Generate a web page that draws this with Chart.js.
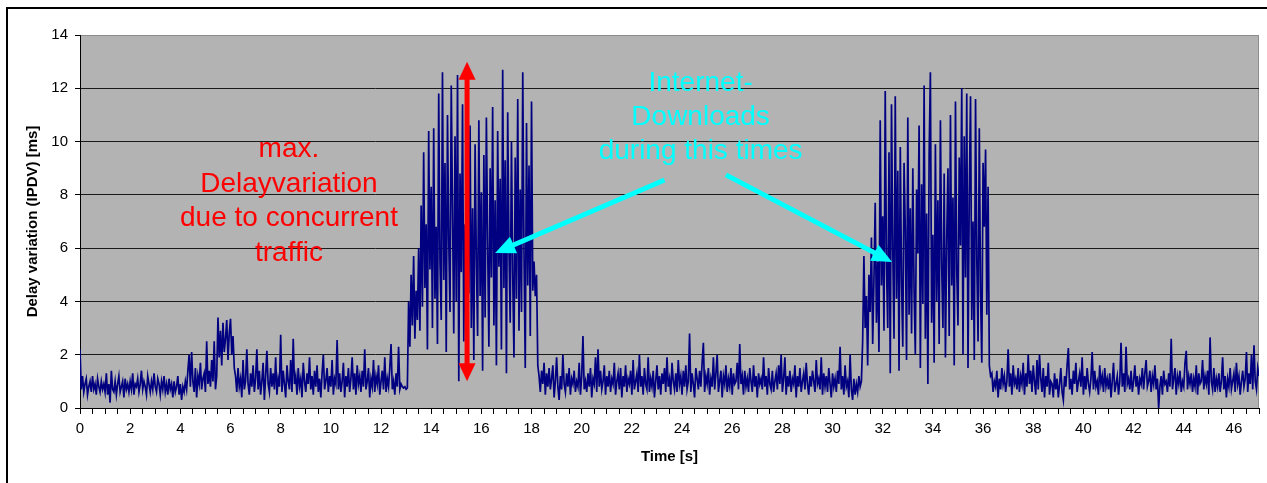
<!DOCTYPE html>
<html>
<head>
<meta charset="utf-8">
<title>Delay variation (IPDV)</title>
<script src="https://cdn.jsdelivr.net/npm/chart.js@4.4.1/dist/chart.umd.min.js"></script>
<style>
  html, body { margin: 0; padding: 0; background: #fff; }
  #wrap { width: 1267px; height: 483px; }
</style>
</head>
<body>
<div id="wrap"><canvas id="ipdv-chart" width="1267" height="483"></canvas></div>
<script>
// one sample every 50 ms, values in ms
const sampleStep = 0.05;

const quietStart = [
  2.2, 0.7, 1.2, 0.6, 0.9, 1.1, 0.5, 0.8, 1.0, 0.6,
  1.2, 0.7, 0.9, 0.5, 1.1, 0.8, 0.6, 1.0, 0.7, 0.9,
  0.6, 1.3, 0.5, 0.9, 0.2, 1.4, 0.7, 0.6, 1.0, 0.5,
  0.9, 1.2, 0.6, 0.8, 1.0, 0.4, 1.1, 0.7, 0.9, 0.6,
  1.0, 0.7, 1.3, 0.5, 0.9, 0.8, 1.1, 0.6, 0.9, 1.4,
  0.7, 1.0, 0.8, 0.5, 1.2, 0.9, 0.6, 1.0, 0.7, 1.3,
  0.8, 0.6, 1.1, 0.9, 0.5, 1.0, 0.7, 1.2, 0.6, 0.9,
  0.5, 1.1, 0.7, 0.9, 0.4, 1.0, 0.6, 0.8, 1.2, 0.5,
  0.9, 0.3, 0.8, 0.6, 1.0, 0.7,
];
const rampBump = [
  1.4, 2.0, 0.8, 2.1, 1.0, 0.6, 1.5, 0.4, 1.2, 0.9,
  1.7, 0.7, 1.1, 1.3, 0.6, 2.5, 0.9, 1.4, 0.8, 1.8,
  1.0, 2.5, 0.7, 1.2, 3.4, 1.9, 2.9, 1.6, 3.2, 2.1,
  2.6, 3.3, 1.8, 2.8, 3.35, 2.0, 2.7, 1.5,
];
const quietA = [
  1.2, 0.6, 1.5, 0.8, 1.1, 0.4, 1.8, 0.7, 1.0, 2.2,
  0.9, 0.5, 1.3, 0.8, 1.6, 0.6, 1.1, 2.2, 0.7, 1.4,
  0.5, 1.0, 1.7, 0.3, 1.2, 2.15, 0.9, 0.6, 1.5, 0.8,
  1.3, 0.7, 1.9, 0.5, 1.1, 0.8, 2.75, 0.6, 1.4, 0.9,
  0.4, 1.6, 1.0, 0.7, 1.8, 0.6, 2.6, 0.9, 1.2, 0.5,
  1.5, 0.8, 1.1, 0.4, 1.7, 1.0, 0.6, 1.3, 0.9, 1.9,
  0.7, 1.2, 0.5, 1.4, 0.8, 1.6, 0.6, 1.1, 0.4, 1.3,
  2.0, 0.7, 1.0, 1.5, 0.6, 1.2, 0.8, 1.8, 0.5, 1.1,
  0.9, 2.55, 0.7, 1.3, 0.6, 1.0, 1.7, 0.4, 1.2, 0.8,
  1.5, 0.6, 1.1, 1.9, 0.7, 1.3, 0.5, 1.6, 0.9, 1.2,
  0.6, 1.4, 0.8, 2.2, 0.7, 1.0, 1.5, 0.4, 1.1, 0.8,
  1.8, 0.6, 1.2, 0.9, 1.6, 0.5, 1.0, 1.4, 0.7, 1.9,
  0.6, 1.1, 0.8, 1.5, 2.4, 0.7, 1.0, 0.5, 1.3, 0.8,
  2.3, 0.7, 0.9, 0.8, 0.75, 0.8, 0.7, 0.75,
];
const burstA = [
  4.0, 2.3, 5.0, 3.1, 5.7, 2.6, 4.4, 3.3, 6.0, 2.9,
  7.6, 3.8, 9.6, 4.5, 6.9, 2.2, 10.4, 5.2, 8.3, 3.0,
  10.5, 4.1, 6.8, 2.4, 11.8, 5.5, 3.3, 12.6, 4.8, 9.2,
  2.1, 11.0, 6.3, 3.6, 12.1, 7.4, 2.8, 10.2, 4.0, 12.5,
  1.0, 8.8, 5.1, 11.4, 2.5, 6.9, 1.6, 9.7, 4.3, 10.6,
  3.0, 7.5, 1.8, 9.9, 5.6, 2.7, 10.8, 4.2, 8.1, 1.4,
  9.5, 3.4, 10.9, 6.2, 2.3, 9.0, 4.9, 11.3, 3.1, 7.8,
  1.6, 10.4, 5.3, 8.6, 2.2, 12.7, 4.5, 9.3, 1.3, 11.1,
  6.0, 3.2, 10.0, 5.0, 1.9, 9.4, 4.1, 11.6, 2.9, 8.2,
  3.6, 12.6, 5.8, 1.5, 10.7, 4.6, 9.1, 2.7, 11.5, 4.4,
  5.5, 4.2, 5.0,
];
const quietB = [
  1.6, 1.2, 0.6, 1.4, 0.9, 1.7, 0.5, 1.3, 0.8, 1.5,
  0.7, 1.1, 1.6, 0.4, 1.0, 1.9, 0.8, 0.3, 1.2, 0.7,
  2.0, 0.9, 0.6, 1.3, 0.8, 1.5, 0.5, 1.1, 0.9, 1.4,
  0.6, 1.0, 0.8, 1.7, 0.5, 1.2, 2.7, 0.7, 1.0, 0.6,
  1.3, 0.8, 1.5, 0.4, 1.1, 0.9, 1.9, 0.6, 2.2, 0.8,
  1.4, 0.7, 1.0, 1.6, 0.5, 1.2, 0.8, 1.4, 0.6, 1.1,
  0.9, 1.7, 0.5, 1.0, 1.3, 0.7, 1.5, 0.4, 1.2, 0.8,
  1.6, 0.6, 1.1, 0.9, 1.4, 0.5, 1.8, 0.7, 1.0, 1.3,
  0.6, 2.0, 0.8, 1.2, 0.5, 1.5, 0.9, 0.7, 1.9, 0.6,
  1.1, 0.8, 1.4, 0.4, 1.0, 1.6, 0.7, 1.2, 0.5, 1.3,
  0.9, 1.5, 0.6, 1.9, 0.8, 1.1, 0.5, 1.7, 1.0, 0.7,
  1.3, 0.6, 1.8, 0.9, 1.2, 0.5, 1.4, 0.8, 1.6, 0.7,
  1.0, 2.8, 0.6, 1.3, 0.9, 0.4, 1.5, 1.1, 0.7, 1.4,
  0.8, 1.7, 2.45, 0.6, 1.2, 0.9, 1.5, 0.5, 1.1, 0.8,
  1.9, 0.7, 1.3, 2.0, 0.6, 1.0, 1.4, 0.4, 1.2, 0.9,
  1.6, 0.6, 1.1, 0.8, 1.5, 0.5, 1.3, 0.9, 1.0, 1.7,
  0.7, 2.4, 0.9, 1.2, 0.5, 1.4, 0.8, 1.1, 0.6, 1.5,
  1.0, 0.6, 1.6, 0.8, 1.2, 0.4, 1.3, 0.9, 1.1, 0.7,
  1.9, 0.8, 1.2, 0.5, 1.5, 0.9, 0.7, 1.4, 0.6, 1.0,
  1.3, 0.7, 1.6, 0.9, 2.0, 0.6, 1.1, 1.9, 0.5, 1.2,
  0.8, 1.4, 0.6, 1.1, 0.9, 1.6, 0.4, 1.2, 0.8, 1.5,
  0.6, 1.0, 1.3, 0.7, 1.7, 0.9, 0.5, 1.2, 0.8, 1.4,
  1.0, 0.6, 1.8, 0.9, 1.1, 0.7, 1.9, 0.5, 1.3, 0.8,
  1.2, 0.6, 1.5, 0.9, 0.4, 1.3, 0.8, 1.1, 0.6, 1.4,
  0.9, 2.3, 0.7, 1.2, 0.5, 1.6, 0.8, 1.0, 0.4, 2.0,
  0.7, 0.3, 1.1, 0.5, 0.9, 0.6, 1.2, 0.8, 1.0,
];
const burstB = [
  2.5, 5.7, 3.0, 4.2, 1.6, 5.0, 3.6, 6.4, 2.4, 4.8,
  7.7, 3.2, 5.5, 2.1, 10.8, 4.6, 7.2, 2.9, 11.9, 5.3,
  3.0, 9.6, 1.3, 11.4, 6.0, 2.6, 11.7, 4.1, 8.9, 1.4,
  9.8, 4.7, 2.3, 9.2, 6.7, 1.8, 10.9, 3.5, 7.5, 2.8,
  9.0, 4.4, 2.0, 8.2, 5.8, 10.6, 1.5, 8.4, 3.9, 12.1,
  2.6, 7.3, 0.9, 9.5, 12.6, 3.2, 6.5, 1.7, 9.9, 4.0,
  7.8, 2.4, 10.8, 5.4, 3.0, 8.8, 1.9, 6.3, 9.0, 2.7,
  11.0, 4.6, 7.9, 1.6, 11.5, 5.2, 3.1, 9.4, 6.1, 12.0,
  2.0, 10.2, 4.9, 11.8, 1.5, 8.0, 11.7, 3.3, 7.0, 1.8,
  11.6, 5.6, 2.5, 10.5, 4.3, 1.7, 9.2, 6.8, 9.7, 3.5,
  8.3, 1.6, 1.2,
];
const quietC = [
  1.3, 0.6, 1.0, 0.8, 1.4, 0.4, 1.1, 0.7, 1.5, 0.9,
  1.2, 0.6, 1.0, 2.2, 0.8, 1.3, 0.5, 1.6, 0.9, 1.1,
  0.7, 1.5, 0.6, 1.2, 0.9, 1.7, 0.5, 1.3, 0.8, 2.0,
  0.9, 1.4, 0.6, 1.6, 1.0, 0.5, 1.8, 0.7, 2.0, 1.1,
  0.6, 1.5, 0.4, 1.2, 0.8, 1.7, 0.5, 1.0, 0.9, 0.4,
  1.3, 0.7, 1.1, 0.4, 0.9, 1.5, 0.6, 0.3, 1.2, 0.8,
  1.6, 2.25, 0.7, 1.1, 0.5, 1.4, 0.9, 1.7, 0.6, 1.0,
  1.3, 0.8, 1.9, 0.5, 1.2, 0.7, 1.5, 0.9, 0.6, 1.1,
  2.1, 0.7, 1.4, 0.8, 1.0, 0.5, 1.6, 0.9, 1.2, 0.6,
  1.5, 0.8, 1.1, 0.7, 1.3, 0.4, 1.0, 1.7, 0.6, 0.9,
  1.2, 0.5, 1.0, 2.45, 0.8, 1.3, 0.6, 2.3, 0.9, 1.1,
  0.7, 1.4, 0.6, 1.0, 1.6, 0.8, 1.2, 0.5, 1.1, 0.9,
  1.5, 0.7, 1.3, 1.8, 0.8, 1.0, 1.4, 0.6, 1.2, 0.9,
  1.6, 0.7, 1.1, 0.0, 0.8, 1.2, 0.5, 1.4, 0.9, 1.0,
  0.6, 1.3, 0.8, 2.6, 0.7, 1.1, 1.5, 0.5, 1.2, 0.9,
  1.4, 0.6, 1.0, 0.8, 1.7, 2.15, 0.7, 1.2, 0.9, 1.3,
  0.6, 1.1, 0.8, 1.6, 0.5, 1.3, 0.9, 1.0, 1.8, 0.7,
  1.2, 0.9, 1.4, 0.5, 2.65, 1.0, 0.7, 1.5, 0.6, 1.1,
  0.8, 1.3, 0.6, 1.0, 1.9, 0.7, 1.2, 0.4, 1.1, 0.8,
  1.5, 0.7, 1.0, 1.3, 0.6, 1.7, 0.9, 1.2, 0.5, 1.0,
  1.4, 0.8, 1.1, 2.1, 0.6, 1.3, 0.9, 2.0, 0.7, 2.35,
  1.0, 0.7, 1.5, 1.2,
];

const segments = [quietStart, rampBump, quietA, burstA, quietB, burstB, quietC];
const segmentStarts = [0, 4.3, 6.2, 13.1, 18.25, 31.2, 36.35]; // s

const yTicks = [0, 2, 4, 6, 8, 10, 12, 14];
const xLabelEvery = 2;

// annotation texts
const redNote = ["max.", "Delayvariation", "due to concurrent", "traffic"];
const cyanNote = ["Internet-", "Downloads", "during this times"];

const points = segments.flatMap((values, k) =>
  values.map((v, i) => ({ x: Number((segmentStarts[k] + i * sampleStep).toFixed(2)), y: v }))
);

function drawArrowHead(ctx, tipX, tipY, angle, len, width) {
  ctx.beginPath();
  ctx.moveTo(tipX, tipY);
  ctx.lineTo(tipX - len * Math.cos(angle) + (width / 2) * Math.sin(angle),
             tipY - len * Math.sin(angle) - (width / 2) * Math.cos(angle));
  ctx.lineTo(tipX - len * Math.cos(angle) - (width / 2) * Math.sin(angle),
             tipY - len * Math.sin(angle) + (width / 2) * Math.cos(angle));
  ctx.closePath();
  ctx.fill();
}

function drawArrow(ctx, x1, y1, x2, y2, color) {
  const angle = Math.atan2(y2 - y1, x2 - x1);
  const len = 20;
  ctx.strokeStyle = color;
  ctx.fillStyle = color;
  ctx.lineWidth = 5;
  ctx.beginPath();
  ctx.moveTo(x1, y1);
  ctx.lineTo(x2 - (len - 2) * Math.cos(angle), y2 - (len - 2) * Math.sin(angle));
  ctx.stroke();
  drawArrowHead(ctx, x2, y2, angle, len, 18);
}

const backdrop = {
  id: "backdrop",
  beforeDraw(chart) {
    const { ctx, chartArea: a } = chart;
    ctx.save();
    ctx.fillStyle = "#fff";
    ctx.fillRect(0, 0, chart.width, chart.height);
    ctx.strokeStyle = "#000";
    ctx.lineWidth = 2;
    ctx.strokeRect(7, 8, chart.width + 10, chart.height + 10);
    ctx.fillStyle = "#b3b3b3";
    ctx.fillRect(a.left, a.top, a.right - a.left, a.bottom - a.top);
    ctx.strokeStyle = "#8c8c8c";
    ctx.lineWidth = 1;
    ctx.strokeRect(a.left + 0.5, a.top + 0.5, a.right - a.left - 1, a.bottom - a.top);
    ctx.restore();
  },
};

const notes = {
  id: "notes",
  afterDatasetsDraw(chart) {
    const { ctx, scales: { x, y } } = chart;
    ctx.save();
    ctx.font = "28px 'Liberation Sans', Arial, sans-serif";
    ctx.textAlign = "center";
    ctx.textBaseline = "alphabetic";

    ctx.fillStyle = "#ff0000";
    redNote.forEach((line, i) => {
      ctx.fillText(line, x.getPixelForValue(8.33), y.getPixelForValue(9.41) + i * 34.5);
    });

    ctx.fillStyle = "#00ffff";
    cyanNote.forEach((line, i) => {
      ctx.fillText(line, x.getPixelForValue(24.74), y.getPixelForValue(11.91) + i * 34.3);
    });

    drawArrow(ctx, x.getPixelForValue(23.3), y.getPixelForValue(8.56),
      x.getPixelForValue(16.55), y.getPixelForValue(5.82), "#00ffff");
    drawArrow(ctx, x.getPixelForValue(25.75), y.getPixelForValue(8.75),
      x.getPixelForValue(32.37), y.getPixelForValue(5.48), "#00ffff");

    // red double arrow: spread of the delay variation
    const rx = x.getPixelForValue(15.43);
    const top = y.getPixelForValue(13.0);
    const bottom = y.getPixelForValue(1.0);
    ctx.strokeStyle = "#ff0000";
    ctx.fillStyle = "#ff0000";
    ctx.lineWidth = 5;
    ctx.beginPath();
    ctx.moveTo(rx, top + 16);
    ctx.lineTo(rx, bottom - 16);
    ctx.stroke();
    drawArrowHead(ctx, rx, top, -Math.PI / 2, 18, 17);
    drawArrowHead(ctx, rx, bottom, Math.PI / 2, 18, 17);
    ctx.restore();
  },
};

const tickFont = { family: "'Liberation Sans', Arial, sans-serif", size: 15 };
const titleFont = { family: "'Liberation Sans', Arial, sans-serif", size: 15, weight: "bold" };

new Chart(document.getElementById("ipdv-chart"), {
  type: "line",
  data: {
    datasets: [{
      label: "IPDV",
      data: points,
      borderColor: "#000080",
      borderWidth: 1.7,
      pointRadius: 0,
      tension: 0,
      fill: false,
    }],
  },
  options: {
    responsive: false,
    animation: false,
    devicePixelRatio: 1,
    layout: { padding: { left: 0, top: 35, right: 8, bottom: 0 } },
    plugins: { legend: { display: false }, tooltip: { enabled: false } },
    scales: {
      x: {
        type: "linear",
        min: 0,
        max: 47,
        afterFit: (scale) => { scale.height = 75; },
        ticks: {
          stepSize: 0.5,
          autoSkip: false,
          maxRotation: 0,
          padding: 6,
          color: "#000",
          font: tickFont,
          callback: (v) => (Number.isInteger(v) && v % xLabelEvery === 0 ? String(v) : ""),
        },
        grid: { drawOnChartArea: false, drawTicks: true, tickLength: 6, color: "#000" },
        border: { display: true, color: "#000", width: 1 },
        title: { display: true, text: "Time [s]", color: "#000", font: titleFont, padding: { top: 0, bottom: 17 } },
      },
      y: {
        min: 0,
        max: 14,
        afterFit: (scale) => { scale.width = 80; },
        afterBuildTicks: (scale) => { scale.ticks = yTicks.map((v) => ({ value: v })); },
        ticks: { padding: 7, color: "#000", font: tickFont },
        grid: {
          color: (c) => (c.tick && c.tick.value === 14 ? "#8c8c8c" : "#1a1a1a"),
          tickColor: "#000",
          tickLength: 5,
        },
        border: { display: true, color: "#000", width: 1 },
        title: { display: true, text: "Delay variation (IPDV) [ms]", color: "#000", font: titleFont, padding: { top: 24, bottom: 0 } },
      },
    },
  },
  plugins: [backdrop, notes],
});
</script>
</body>
</html>
